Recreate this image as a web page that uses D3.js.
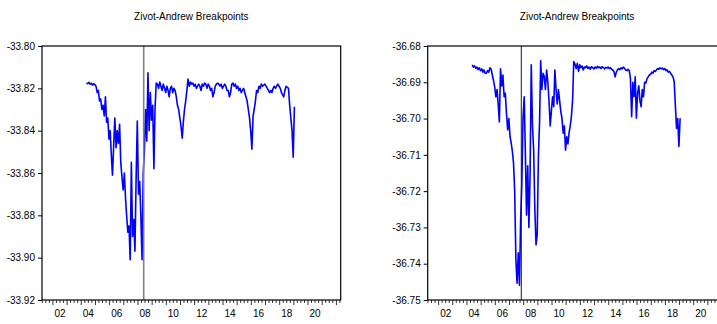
<!DOCTYPE html>
<html>
<head>
<meta charset="utf-8">
<script src="https://cdn.jsdelivr.net/npm/d3@7"></script>
<style>
  body { margin: 0; background: #fff; }
  svg text { font-family: "Liberation Sans Narrow", "Liberation Sans", Arial, sans-serif; fill: #000; }
</style>
</head>
<body>
<svg id="chart" width="717" height="324"></svg>
<script>
// Monthly observations, first month below; both panels share the same dates.
const firstMonth = "2004-05-15";
const chartTitle = "Zivot-Andrew Breakpoints";

// Left panel: ZA statistic path
const seriesA = [
  -33.8175, -33.8178, -33.8172, -33.8180, -33.8176, -33.8185, -33.8178, -33.8182, -33.8190, -33.8220, -33.8210, -33.8260,
  -33.8250, -33.8300, -33.8280, -33.8330, -33.8240, -33.8360, -33.8340, -33.8440, -33.8400, -33.8520, -33.8610, -33.8470,
  -33.8340, -33.8480, -33.8400, -33.8460, -33.8370, -33.8550, -33.8620, -33.8680, -33.8600, -33.8720, -33.8800, -33.8880,
  -33.8850, -33.9010, -33.8550, -33.8900, -33.8820, -33.8970, -33.8620, -33.8355, -33.8700, -33.8640, -33.8800, -33.9010,
  -33.8600, -33.8500, -33.8300, -33.8450, -33.8127, -33.8400, -33.8220, -33.8350, -33.8280, -33.8580, -33.8300, -33.8175,
  -33.8180, -33.8200, -33.8170, -33.8190, -33.8210, -33.8180, -33.8200, -33.8220, -33.8190, -33.8210, -33.8240, -33.8200,
  -33.8190, -33.8220, -33.8200, -33.8210, -33.8240, -33.8280, -33.8300, -33.8340, -33.8380, -33.8435, -33.8360, -33.8300,
  -33.8260, -33.8210, -33.8156, -33.8190, -33.8170, -33.8180, -33.8175, -33.8190, -33.8180, -33.8200, -33.8190, -33.8180,
  -33.8190, -33.8210, -33.8180, -33.8190, -33.8175, -33.8180, -33.8200, -33.8180, -33.8190, -33.8210, -33.8200, -33.8240,
  -33.8220, -33.8190, -33.8180, -33.8175, -33.8180, -33.8190, -33.8180, -33.8200, -33.8190, -33.8180, -33.8190, -33.8210,
  -33.8210, -33.8240, -33.8220, -33.8180, -33.8175, -33.8190, -33.8180, -33.8200, -33.8190, -33.8210, -33.8200, -33.8220,
  -33.8210, -33.8200, -33.8220, -33.8240, -33.8260, -33.8300, -33.8340, -33.8400, -33.8488, -33.8330, -33.8300, -33.8260,
  -33.8210, -33.8220, -33.8190, -33.8200, -33.8180, -33.8190, -33.8185, -33.8180, -33.8190, -33.8200, -33.8210, -33.8220,
  -33.8210, -33.8220, -33.8200, -33.8190, -33.8200, -33.8190, -33.8180, -33.8190, -33.8200, -33.8220, -33.8230, -33.8240,
  -33.8210, -33.8190, -33.8195, -33.8200, -33.8280, -33.8340, -33.8400, -33.8525, -33.8287
];

// Right panel: ZA statistic path
const seriesB = [
  -36.6852, -36.6858, -36.6855, -36.6862, -36.6858, -36.6865, -36.6860, -36.6868, -36.6863, -36.6872, -36.6866, -36.6875,
  -36.6875, -36.6868, -36.6872, -36.6860, -36.6864, -36.6880, -36.6895, -36.6912, -36.6940, -36.6920, -36.6960, -36.7009,
  -36.6863, -36.6910, -36.6880, -36.6940, -36.6930, -36.6985, -36.7031, -36.7000, -36.7050, -36.7068, -36.7090, -36.7123,
  -36.7200, -36.7390, -36.7454, -36.7370, -36.7459, -36.7280, -36.7180, -36.7000, -36.6940, -36.7100, -36.7266, -36.7130,
  -36.7300, -36.7150, -36.6852, -36.7020, -36.7087, -36.7250, -36.7348, -36.7320, -36.7105, -36.7004, -36.6841, -36.6920,
  -36.6875, -36.6884, -36.6920, -36.6866, -36.6900, -36.6950, -36.7020, -36.6980, -36.6940, -36.6967, -36.6866, -36.6920,
  -36.6960, -36.6920, -36.6950, -36.6980, -36.7000, -36.7040, -36.7020, -36.7087, -36.7050, -36.7070, -36.7040, -36.7020,
  -36.6995, -36.6950, -36.6843, -36.6850, -36.6862, -36.6848, -36.6870, -36.6852, -36.6860, -36.6855, -36.6866, -36.6858,
  -36.6860, -36.6855, -36.6862, -36.6858, -36.6864, -36.6857, -36.6860, -36.6863, -36.6858, -36.6861, -36.6856, -36.6860,
  -36.6858, -36.6862, -36.6857, -36.6860, -36.6863, -36.6859, -36.6861, -36.6858, -36.6862, -36.6860, -36.6864, -36.6866,
  -36.6870, -36.6885, -36.6872, -36.6866, -36.6862, -36.6865, -36.6860, -36.6863, -36.6858, -36.6862, -36.6866, -36.6868,
  -36.6864, -36.6868, -36.6890, -36.6995, -36.6900, -36.6940, -36.6885, -36.6999, -36.6930, -36.6910, -36.6950, -36.6967,
  -36.6920, -36.6940, -36.6900, -36.6902, -36.6890, -36.6885, -36.6880, -36.6878, -36.6872, -36.6875, -36.6868, -36.6870,
  -36.6866, -36.6862, -36.6864, -36.6860, -36.6863, -36.6861, -36.6865, -36.6862, -36.6868, -36.6866, -36.6872, -36.6870,
  -36.6875, -36.6880, -36.6885, -36.6898, -36.6965, -36.7027, -36.7000, -36.7077, -36.6999
];

const ticksA = [-33.80, -33.82, -33.84, -33.86, -33.88, -33.90, -33.92];
const ticksB = [-36.68, -36.69, -36.70, -36.71, -36.72, -36.73, -36.74, -36.75];
const yearLabels = [2002, 2004, 2006, 2008, 2010, 2012, 2014, 2016, 2018, 2020];
const breakDateA = "2008-05-28";
const breakDateB = "2007-11-01";

// Shared layout
const plotTop = 46, plotBottom = 300, plotWidth = 298.7;
const axisStart = new Date(2001, 2, 25), axisEnd = new Date(2022, 3, 22);
const parse = d3.timeParse("%Y-%m-%d");
const start = parse(firstMonth);

const panels = [
  { left: 42, values: seriesA, ticks: ticksA, brk: breakDateA, brkColor: "#808080", brkWidth: 1.6 },
  { left: 427.7, values: seriesB, ticks: ticksB, brk: breakDateB, brkColor: "#1a1a1a", brkWidth: 1 }
];

const svg = d3.select("#chart");

panels.forEach(p => {
  const right = p.left + plotWidth;
  const x = d3.scaleTime().domain([axisStart, axisEnd]).range([p.left, right]);
  const y = d3.scaleLinear().domain([p.ticks[p.ticks.length - 1], p.ticks[0]]).range([plotBottom, plotTop]);
  const g = svg.append("g");
  const data = p.values.map((v, i) => ({ date: d3.timeMonth.offset(start, i), value: v }));

  // title
  g.append("text")
    .attr("x", p.left + plotWidth / 2).attr("y", 19.5)
    .attr("text-anchor", "middle").attr("font-size", 10)
    .text(chartTitle);

  // series line
  g.append("path")
    .datum(data)
    .attr("fill", "none")
    .attr("stroke", "#0000ff")
    .attr("stroke-width", 1.6)
    .attr("stroke-linejoin", "round")
    .attr("d", d3.line().x(d => x(d.date)).y(d => y(d.value)));

  // breakpoint marker
  const bx = x(parse(p.brk));
  g.append("line")
    .attr("x1", bx).attr("x2", bx).attr("y1", plotTop).attr("y2", plotBottom)
    .attr("stroke", p.brkColor).attr("stroke-width", p.brkWidth);

  // frame
  g.append("rect")
    .attr("x", p.left).attr("y", plotTop)
    .attr("width", plotWidth).attr("height", plotBottom - plotTop)
    .attr("fill", "none").attr("stroke", "#000").attr("stroke-width", 1.2);

  // y axis (plain hyphen for negatives)
  const yAxis = d3.axisLeft(y).tickValues(p.ticks).tickFormat(d => d.toFixed(2))
    .tickSize(4).tickPadding(3);
  const ya = g.append("g").attr("transform", `translate(${p.left},0)`).call(yAxis);
  ya.select(".domain").remove();
  ya.selectAll("text").attr("font-size", 10).attr("font-family", null);
  ya.selectAll("line").attr("stroke", "#000");

  // x axis: quarterly minor ticks, yearly major ticks, labels centred in each labelled year
  const quarters = d3.timeMonth.every(3).range(axisStart, axisEnd);
  g.selectAll(".qt").data(quarters).join("line")
    .attr("x1", d => x(d)).attr("x2", d => x(d))
    .attr("y1", plotBottom).attr("y2", d => plotBottom + (d.getMonth() === 0 ? 5 : 3))
    .attr("stroke", "#000").attr("stroke-width", 0.8);

  g.selectAll(".yl").data(yearLabels).join("text")
    .attr("x", d => x(new Date(d, 6, 2)))
    .attr("y", 317)
    .attr("text-anchor", "middle").attr("font-size", 10)
    .text(d => String(d % 100).padStart(2, "0"));
});
</script>
</body>
</html>
